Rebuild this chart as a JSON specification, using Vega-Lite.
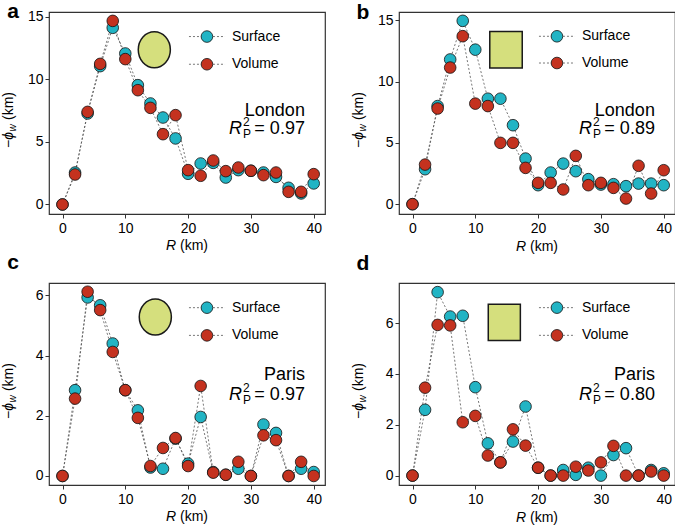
{
"$schema": "https://vega.github.io/schema/vega-lite/v6.json",
"padding": {"left": 1, "top": 0, "right": 0, "bottom": 0},
"background": "white",
"config": {
 "font": "Liberation Sans",
 "view": {"stroke": "#333333", "strokeWidth": 1.2},
 "axis": {"domain": false, "grid": false, "ticks": true, "tickColor": "#333333", "tickSize": 4, "tickWidth": 1, "labelFontSize": 14, "labelColor": "#000000", "labelFont": "Liberation Sans"},
 "axisX": {"labelPadding": 3},
 "axisY": {"labelPadding": 2},
 "text": {"fontSize": 14, "color": "#000000", "align": "left", "baseline": "alphabetic", "font": "Liberation Sans"},
 "rule": {"color": "#555555", "strokeDash": [2, 2], "strokeWidth": 0.8},
 "line": {"color": "#555555", "strokeDash": [2, 2], "strokeWidth": 0.8},
 "point": {"filled": true, "size": 135, "stroke": "#111111", "strokeWidth": 0.8, "opacity": 1, "shape": "circle"}
},
"datasets": {
 "a": [
  {"series":"Surface","R":0,"phi":0},{"series":"Surface","R":2,"phi":2.55},{"series":"Surface","R":4,"phi":7.26},{"series":"Surface","R":6,"phi":11.04},{"series":"Surface","R":8,"phi":14.1},{"series":"Surface","R":10,"phi":12.05},{"series":"Surface","R":12,"phi":9.52},{"series":"Surface","R":14,"phi":8.06},{"series":"Surface","R":16,"phi":6.94},{"series":"Surface","R":18,"phi":5.27},{"series":"Surface","R":20,"phi":2.45},{"series":"Surface","R":22,"phi":3.27},{"series":"Surface","R":24,"phi":3.32},{"series":"Surface","R":26,"phi":2.15},{"series":"Surface","R":28,"phi":2.74},{"series":"Surface","R":30,"phi":2.69},{"series":"Surface","R":32,"phi":2.55},{"series":"Surface","R":34,"phi":2.2},{"series":"Surface","R":36,"phi":1.33},{"series":"Surface","R":38,"phi":0.88},{"series":"Surface","R":40,"phi":1.68},
  {"series":"Volume","R":0,"phi":0},{"series":"Volume","R":2,"phi":2.39},{"series":"Volume","R":4,"phi":7.39},{"series":"Volume","R":6,"phi":11.22},{"series":"Volume","R":8,"phi":14.65},{"series":"Volume","R":10,"phi":11.6},{"series":"Volume","R":12,"phi":9.12},{"series":"Volume","R":14,"phi":7.71},{"series":"Volume","R":16,"phi":5.61},{"series":"Volume","R":18,"phi":7.13},{"series":"Volume","R":20,"phi":2.74},{"series":"Volume","R":22,"phi":2.29},{"series":"Volume","R":24,"phi":3.51},{"series":"Volume","R":26,"phi":2.66},{"series":"Volume","R":28,"phi":2.95},{"series":"Volume","R":30,"phi":2.69},{"series":"Volume","R":32,"phi":2.34},{"series":"Volume","R":34,"phi":2.55},{"series":"Volume","R":36,"phi":1.01},{"series":"Volume","R":38,"phi":1.01},{"series":"Volume","R":40,"phi":2.42}
 ],
 "b": [
  {"series":"Surface","R":0,"phi":0},{"series":"Surface","R":2,"phi":2.85},{"series":"Surface","R":4,"phi":8.0},{"series":"Surface","R":6,"phi":11.8},{"series":"Surface","R":8,"phi":14.95},{"series":"Surface","R":10,"phi":12.6},{"series":"Surface","R":12,"phi":8.6},{"series":"Surface","R":14,"phi":8.6},{"series":"Surface","R":16,"phi":6.44},{"series":"Surface","R":18,"phi":3.72},{"series":"Surface","R":20,"phi":1.55},{"series":"Surface","R":22,"phi":2.58},{"series":"Surface","R":24,"phi":3.31},{"series":"Surface","R":26,"phi":2.69},{"series":"Surface","R":28,"phi":2.04},{"series":"Surface","R":30,"phi":1.6},{"series":"Surface","R":32,"phi":1.63},{"series":"Surface","R":34,"phi":1.47},{"series":"Surface","R":36,"phi":1.68},{"series":"Surface","R":38,"phi":1.68},{"series":"Surface","R":40,"phi":1.55},
  {"series":"Volume","R":0,"phi":0},{"series":"Volume","R":2,"phi":3.23},{"series":"Volume","R":4,"phi":7.8},{"series":"Volume","R":6,"phi":11.14},{"series":"Volume","R":8,"phi":13.7},{"series":"Volume","R":10,"phi":8.2},{"series":"Volume","R":12,"phi":8.0},{"series":"Volume","R":14,"phi":5.0},{"series":"Volume","R":16,"phi":5.0},{"series":"Volume","R":18,"phi":2.96},{"series":"Volume","R":20,"phi":1.74},{"series":"Volume","R":22,"phi":1.74},{"series":"Volume","R":24,"phi":1.2},{"series":"Volume","R":26,"phi":3.94},{"series":"Volume","R":28,"phi":1.55},{"series":"Volume","R":30,"phi":1.74},{"series":"Volume","R":32,"phi":1.33},{"series":"Volume","R":34,"phi":0.46},{"series":"Volume","R":36,"phi":3.13},{"series":"Volume","R":38,"phi":0.87},{"series":"Volume","R":40,"phi":2.77}
 ],
 "c": [
  {"series":"Surface","R":0,"phi":0},{"series":"Surface","R":2,"phi":2.85},{"series":"Surface","R":4,"phi":5.93},{"series":"Surface","R":6,"phi":5.67},{"series":"Surface","R":8,"phi":4.4},{"series":"Surface","R":10,"phi":2.85},{"series":"Surface","R":12,"phi":2.18},{"series":"Surface","R":14,"phi":0.28},{"series":"Surface","R":16,"phi":0.24},{"series":"Surface","R":18,"phi":1.24},{"series":"Surface","R":20,"phi":0.41},{"series":"Surface","R":22,"phi":1.96},{"series":"Surface","R":24,"phi":0.13},{"series":"Surface","R":26,"phi":0.04},{"series":"Surface","R":28,"phi":0.24},{"series":"Surface","R":30,"phi":0},{"series":"Surface","R":32,"phi":1.71},{"series":"Surface","R":34,"phi":1.43},{"series":"Surface","R":36,"phi":0},{"series":"Surface","R":38,"phi":0.24},{"series":"Surface","R":40,"phi":0.13},
  {"series":"Volume","R":0,"phi":0},{"series":"Volume","R":2,"phi":2.57},{"series":"Volume","R":4,"phi":6.12},{"series":"Volume","R":6,"phi":5.51},{"series":"Volume","R":8,"phi":4.12},{"series":"Volume","R":10,"phi":2.85},{"series":"Volume","R":12,"phi":1.93},{"series":"Volume","R":14,"phi":0.33},{"series":"Volume","R":16,"phi":0.93},{"series":"Volume","R":18,"phi":1.26},{"series":"Volume","R":20,"phi":0.33},{"series":"Volume","R":22,"phi":2.99},{"series":"Volume","R":24,"phi":0.11},{"series":"Volume","R":26,"phi":0.04},{"series":"Volume","R":28,"phi":0.47},{"series":"Volume","R":30,"phi":0},{"series":"Volume","R":32,"phi":1.35},{"series":"Volume","R":34,"phi":1.19},{"series":"Volume","R":36,"phi":0},{"series":"Volume","R":38,"phi":0.47},{"series":"Volume","R":40,"phi":0}
 ],
 "d": [
  {"series":"Surface","R":0,"phi":0},{"series":"Surface","R":2,"phi":2.59},{"series":"Surface","R":4,"phi":7.22},{"series":"Surface","R":6,"phi":6.26},{"series":"Surface","R":8,"phi":6.29},{"series":"Surface","R":10,"phi":3.48},{"series":"Surface","R":12,"phi":1.27},{"series":"Surface","R":14,"phi":0.52},{"series":"Surface","R":16,"phi":1.34},{"series":"Surface","R":18,"phi":2.72},{"series":"Surface","R":20,"phi":0.31},{"series":"Surface","R":22,"phi":0},{"series":"Surface","R":24,"phi":0.22},{"series":"Surface","R":26,"phi":0.03},{"series":"Surface","R":28,"phi":0.31},{"series":"Surface","R":30,"phi":0},{"series":"Surface","R":32,"phi":0.81},{"series":"Surface","R":34,"phi":1.08},{"series":"Surface","R":36,"phi":0},{"series":"Surface","R":38,"phi":0.22},{"series":"Surface","R":40,"phi":0.09},
  {"series":"Volume","R":0,"phi":0},{"series":"Volume","R":2,"phi":3.46},{"series":"Volume","R":4,"phi":5.93},{"series":"Volume","R":6,"phi":5.91},{"series":"Volume","R":8,"phi":2.1},{"series":"Volume","R":10,"phi":2.35},{"series":"Volume","R":12,"phi":0.79},{"series":"Volume","R":14,"phi":0.52},{"series":"Volume","R":16,"phi":1.82},{"series":"Volume","R":18,"phi":1.18},{"series":"Volume","R":20,"phi":0.31},{"series":"Volume","R":22,"phi":0},{"series":"Volume","R":24,"phi":0},{"series":"Volume","R":26,"phi":0.35},{"series":"Volume","R":28,"phi":0.2},{"series":"Volume","R":30,"phi":0.52},{"series":"Volume","R":32,"phi":1.17},{"series":"Volume","R":34,"phi":0},{"series":"Volume","R":36,"phi":0},{"series":"Volume","R":38,"phi":0.16},{"series":"Volume","R":40,"phi":0}
 ]
},
"columns": 2,
"spacing": {"row": 69, "column": 74},
"bounds": "flush",
"concat": [
 {"width": 276, "height": 202, "layer": [
  {"data":{"name":"a"},"mark":"line","encoding":{"x":{"field":"R","type":"quantitative","scale":{"domain":[-2.15,41.8],"nice":false,"zero":false},"axis":{"values":[0,10,20,30,40],"title":null}},"y":{"field":"phi","type":"quantitative","scale":{"domain":[-0.76,15.36],"nice":false,"zero":false},"axis":{"values":[0,5,10,15],"title":null}},"detail":{"field":"series"}}},
  {"data":{"name":"a"},"mark":"point","encoding":{"x":{"field":"R","type":"quantitative","axis":{"values":[0,10,20,30,40],"title":null}},"y":{"field":"phi","type":"quantitative","axis":{"values":[0,5,10,15],"title":null}},"color":{"field":"series","type":"nominal","scale":{"domain":["Surface","Volume"],"range":["#22b4c4","#c4321f"]},"legend":null}}},
  {"data":{"values":[{}]},"mark":{"type":"point","shape":"M0.89,0A0.89,1,0,1,1,-0.89,0A0.89,1,0,1,1,0.89,0Z","size":1300,"fill":"#d5df7d","stroke":"#1a1a1a","strokeWidth":1.5},"encoding":{"x":{"datum":14.62},"y":{"datum":12.34}}},
  {"data":{"values":[{}]},"mark":"rule","encoding":{"x":{"datum":20.14},"x2":{"datum":25.88},"y":{"datum":13.40}}},
  {"data":{"values":[{}]},"mark":"rule","encoding":{"x":{"datum":20.14},"x2":{"datum":25.88},"y":{"datum":11.19}}},
  {"data":{"values":[{}]},"mark":{"type":"point","fill":"#22b4c4"},"encoding":{"x":{"datum":23.0},"y":{"datum":13.40}}},
  {"data":{"values":[{}]},"mark":{"type":"point","fill":"#c4321f"},"encoding":{"x":{"datum":23.0},"y":{"datum":11.19}}},
  {"data":{"values":[{}]},"mark":{"type":"text","text":"Surface","dx":25,"baseline":"middle"},"encoding":{"x":{"datum":23.0},"y":{"datum":13.40}}},
  {"data":{"values":[{}]},"mark":{"type":"text","text":"Volume","dx":25,"baseline":"middle"},"encoding":{"x":{"datum":23.0},"y":{"datum":11.19}}},
  {"data":{"values":[{}]},"mark":{"type":"text","text":"London","align":"right","fontSize":18},"encoding":{"x":{"datum":38.6},"y":{"datum":7.10}}},
  {"data":{"values":[{}]},"mark":{"type":"text","text":"R","fontStyle":"italic","fontSize":18,"dx":-76},"encoding":{"x":{"datum":38.6},"y":{"datum":5.62}}},
  {"data":{"values":[{}]},"mark":{"type":"text","text":"2","fontSize":12,"dx":-62,"dy":-8},"encoding":{"x":{"datum":38.6},"y":{"datum":5.62}}},
  {"data":{"values":[{}]},"mark":{"type":"text","text":"P","fontSize":12,"dx":-62,"dy":4},"encoding":{"x":{"datum":38.6},"y":{"datum":5.62}}},
  {"data":{"values":[{}]},"mark":{"type":"text","text":"= 0.97","align":"right","fontSize":18},"encoding":{"x":{"datum":38.6},"y":{"datum":5.62}}},
  {"data":{"values":[{}]},"mark":{"type":"text","text":"a","fontSize":21,"fontWeight":"bold","align":"center"},"encoding":{"x":{"datum":-7.88},"y":{"datum":14.87}}},
  {"data":{"values":[{}]},"mark":{"type":"text","text":"R","fontStyle":"italic","dx":-21},"encoding":{"x":{"datum":19.82},"y":{"datum":-3.67}}},
  {"data":{"values":[{}]},"mark":{"type":"text","text":"(km)","dx":-7},"encoding":{"x":{"datum":19.82},"y":{"datum":-3.67}}},
  {"data":{"values":[{}]},"mark":{"type":"text","text":"−","angle":270,"dx":-28},"encoding":{"x":{"datum":-7.88},"y":{"datum":6.74}}},
  {"data":{"values":[{}]},"mark":{"type":"text","text":"ϕ","angle":270,"fontStyle":"italic","dx":-19.8},"encoding":{"x":{"datum":-7.88},"y":{"datum":6.74}}},
  {"data":{"values":[{}]},"mark":{"type":"text","text":"w","angle":270,"fontStyle":"italic","fontSize":10,"dx":-11.5,"dy":3},"encoding":{"x":{"datum":-7.88},"y":{"datum":6.74}}},
  {"data":{"values":[{}]},"mark":{"type":"text","text":"(km)","angle":270,"dx":0},"encoding":{"x":{"datum":-7.88},"y":{"datum":6.74}}}
 ]},
 {"width": 276, "height": 202, "layer": [
  {"data":{"name":"b"},"mark":"line","encoding":{"x":{"field":"R","type":"quantitative","scale":{"domain":[-2.15,41.8],"nice":false,"zero":false},"axis":{"values":[0,10,20,30,40],"title":null}},"y":{"field":"phi","type":"quantitative","scale":{"domain":[-0.8,15.67],"nice":false,"zero":false},"axis":{"values":[0,5,10,15],"title":null}},"detail":{"field":"series"}}},
  {"data":{"name":"b"},"mark":"point","encoding":{"x":{"field":"R","type":"quantitative","axis":{"values":[0,10,20,30,40],"title":null}},"y":{"field":"phi","type":"quantitative","axis":{"values":[0,5,10,15],"title":null}},"color":{"field":"series","type":"nominal","scale":{"domain":["Surface","Volume"],"range":["#22b4c4","#c4321f"]},"legend":null}}},
  {"data":{"values":[{}]},"mark":{"type":"point","shape":"M-0.89,-1H0.89V1H-0.89Z","size":1330,"fill":"#d5df7d","stroke":"#1a1a1a","strokeWidth":1.5},"encoding":{"x":{"datum":14.89},"y":{"datum":12.60}}},
  {"data":{"values":[{}]},"mark":"rule","encoding":{"x":{"datum":20.14},"x2":{"datum":25.88},"y":{"datum":13.69}}},
  {"data":{"values":[{}]},"mark":"rule","encoding":{"x":{"datum":20.14},"x2":{"datum":25.88},"y":{"datum":11.51}}},
  {"data":{"values":[{}]},"mark":{"type":"point","fill":"#22b4c4"},"encoding":{"x":{"datum":23.0},"y":{"datum":13.69}}},
  {"data":{"values":[{}]},"mark":{"type":"point","fill":"#c4321f"},"encoding":{"x":{"datum":23.0},"y":{"datum":11.51}}},
  {"data":{"values":[{}]},"mark":{"type":"text","text":"Surface","dx":25,"baseline":"middle"},"encoding":{"x":{"datum":23.0},"y":{"datum":13.69}}},
  {"data":{"values":[{}]},"mark":{"type":"text","text":"Volume","dx":25,"baseline":"middle"},"encoding":{"x":{"datum":23.0},"y":{"datum":11.51}}},
  {"data":{"values":[{}]},"mark":{"type":"text","text":"London","align":"right","fontSize":18},"encoding":{"x":{"datum":38.6},"y":{"datum":7.23}}},
  {"data":{"values":[{}]},"mark":{"type":"text","text":"R","fontStyle":"italic","fontSize":18,"dx":-76},"encoding":{"x":{"datum":38.6},"y":{"datum":5.72}}},
  {"data":{"values":[{}]},"mark":{"type":"text","text":"2","fontSize":12,"dx":-62,"dy":-8},"encoding":{"x":{"datum":38.6},"y":{"datum":5.72}}},
  {"data":{"values":[{}]},"mark":{"type":"text","text":"P","fontSize":12,"dx":-62,"dy":4},"encoding":{"x":{"datum":38.6},"y":{"datum":5.72}}},
  {"data":{"values":[{}]},"mark":{"type":"text","text":"= 0.89","align":"right","fontSize":18},"encoding":{"x":{"datum":38.6},"y":{"datum":5.72}}},
  {"data":{"values":[{}]},"mark":{"type":"text","text":"b","fontSize":21,"fontWeight":"bold","align":"center"},"encoding":{"x":{"datum":-7.88},"y":{"datum":15.1}}},
  {"data":{"values":[{}]},"mark":{"type":"text","text":"R","fontStyle":"italic","dx":-21},"encoding":{"x":{"datum":19.82},"y":{"datum":-3.78}}},
  {"data":{"values":[{}]},"mark":{"type":"text","text":"(km)","dx":-7},"encoding":{"x":{"datum":19.82},"y":{"datum":-3.78}}},
  {"data":{"values":[{}]},"mark":{"type":"text","text":"−","angle":270,"dx":-28},"encoding":{"x":{"datum":-7.88},"y":{"datum":6.86}}},
  {"data":{"values":[{}]},"mark":{"type":"text","text":"ϕ","angle":270,"fontStyle":"italic","dx":-19.8},"encoding":{"x":{"datum":-7.88},"y":{"datum":6.86}}},
  {"data":{"values":[{}]},"mark":{"type":"text","text":"w","angle":270,"fontStyle":"italic","fontSize":10,"dx":-11.5,"dy":3},"encoding":{"x":{"datum":-7.88},"y":{"datum":6.86}}},
  {"data":{"values":[{}]},"mark":{"type":"text","text":"(km)","angle":270,"dx":0},"encoding":{"x":{"datum":-7.88},"y":{"datum":6.86}}}
 ]},
 {"width": 276, "height": 202, "layer": [
  {"data":{"name":"c"},"mark":"line","encoding":{"x":{"field":"R","type":"quantitative","scale":{"domain":[-2.15,41.8],"nice":false,"zero":false},"axis":{"values":[0,10,20,30,40],"title":null}},"y":{"field":"phi","type":"quantitative","scale":{"domain":[-0.3,6.41],"nice":false,"zero":false},"axis":{"values":[0,2,4,6],"title":null}},"detail":{"field":"series"}}},
  {"data":{"name":"c"},"mark":"point","encoding":{"x":{"field":"R","type":"quantitative","axis":{"values":[0,10,20,30,40],"title":null}},"y":{"field":"phi","type":"quantitative","axis":{"values":[0,2,4,6],"title":null}},"color":{"field":"series","type":"nominal","scale":{"domain":["Surface","Volume"],"range":["#22b4c4","#c4321f"]},"legend":null}}},
  {"data":{"values":[{}]},"mark":{"type":"point","shape":"M0.89,0A0.89,1,0,1,1,-0.89,0A0.89,1,0,1,1,0.89,0Z","size":1300,"fill":"#d5df7d","stroke":"#1a1a1a","strokeWidth":1.5},"encoding":{"x":{"datum":14.78},"y":{"datum":5.28}}},
  {"data":{"values":[{}]},"mark":"rule","encoding":{"x":{"datum":20.14},"x2":{"datum":25.88},"y":{"datum":5.59}}},
  {"data":{"values":[{}]},"mark":"rule","encoding":{"x":{"datum":20.14},"x2":{"datum":25.88},"y":{"datum":4.67}}},
  {"data":{"values":[{}]},"mark":{"type":"point","fill":"#22b4c4"},"encoding":{"x":{"datum":23.0},"y":{"datum":5.59}}},
  {"data":{"values":[{}]},"mark":{"type":"point","fill":"#c4321f"},"encoding":{"x":{"datum":23.0},"y":{"datum":4.67}}},
  {"data":{"values":[{}]},"mark":{"type":"text","text":"Surface","dx":25,"baseline":"middle"},"encoding":{"x":{"datum":23.0},"y":{"datum":5.59}}},
  {"data":{"values":[{}]},"mark":{"type":"text","text":"Volume","dx":25,"baseline":"middle"},"encoding":{"x":{"datum":23.0},"y":{"datum":4.67}}},
  {"data":{"values":[{}]},"mark":{"type":"text","text":"Paris","align":"right","fontSize":18},"encoding":{"x":{"datum":38.6},"y":{"datum":3.20}}},
  {"data":{"values":[{}]},"mark":{"type":"text","text":"R","fontStyle":"italic","fontSize":18,"dx":-76},"encoding":{"x":{"datum":38.6},"y":{"datum":2.54}}},
  {"data":{"values":[{}]},"mark":{"type":"text","text":"2","fontSize":12,"dx":-62,"dy":-8},"encoding":{"x":{"datum":38.6},"y":{"datum":2.54}}},
  {"data":{"values":[{}]},"mark":{"type":"text","text":"P","fontSize":12,"dx":-62,"dy":4},"encoding":{"x":{"datum":38.6},"y":{"datum":2.54}}},
  {"data":{"values":[{}]},"mark":{"type":"text","text":"= 0.97","align":"right","fontSize":18},"encoding":{"x":{"datum":38.6},"y":{"datum":2.54}}},
  {"data":{"values":[{}]},"mark":{"type":"text","text":"c","fontSize":21,"fontWeight":"bold","align":"center"},"encoding":{"x":{"datum":-7.88},"y":{"datum":6.86}}},
  {"data":{"values":[{}]},"mark":{"type":"text","text":"R","fontStyle":"italic","dx":-21},"encoding":{"x":{"datum":19.82},"y":{"datum":-1.51}}},
  {"data":{"values":[{}]},"mark":{"type":"text","text":"(km)","dx":-7},"encoding":{"x":{"datum":19.82},"y":{"datum":-1.51}}},
  {"data":{"values":[{}]},"mark":{"type":"text","text":"−","angle":270,"dx":-28},"encoding":{"x":{"datum":-7.88},"y":{"datum":2.82}}},
  {"data":{"values":[{}]},"mark":{"type":"text","text":"ϕ","angle":270,"fontStyle":"italic","dx":-19.8},"encoding":{"x":{"datum":-7.88},"y":{"datum":2.82}}},
  {"data":{"values":[{}]},"mark":{"type":"text","text":"w","angle":270,"fontStyle":"italic","fontSize":10,"dx":-11.5,"dy":3},"encoding":{"x":{"datum":-7.88},"y":{"datum":2.82}}},
  {"data":{"values":[{}]},"mark":{"type":"text","text":"(km)","angle":270,"dx":0},"encoding":{"x":{"datum":-7.88},"y":{"datum":2.82}}}
 ]},
 {"width": 276, "height": 202, "layer": [
  {"data":{"name":"d"},"mark":"line","encoding":{"x":{"field":"R","type":"quantitative","scale":{"domain":[-2.15,41.8],"nice":false,"zero":false},"axis":{"values":[0,10,20,30,40],"title":null}},"y":{"field":"phi","type":"quantitative","scale":{"domain":[-0.37,7.58],"nice":false,"zero":false},"axis":{"values":[0,2,4,6],"title":null}},"detail":{"field":"series"}}},
  {"data":{"name":"d"},"mark":"point","encoding":{"x":{"field":"R","type":"quantitative","axis":{"values":[0,10,20,30,40],"title":null}},"y":{"field":"phi","type":"quantitative","axis":{"values":[0,2,4,6],"title":null}},"color":{"field":"series","type":"nominal","scale":{"domain":["Surface","Volume"],"range":["#22b4c4","#c4321f"]},"legend":null}}},
  {"data":{"values":[{}]},"mark":{"type":"point","shape":"M-0.89,-1H0.89V1H-0.89Z","size":1300,"fill":"#d5df7d","stroke":"#1a1a1a","strokeWidth":1.5},"encoding":{"x":{"datum":14.62},"y":{"datum":6.03}}},
  {"data":{"values":[{}]},"mark":"rule","encoding":{"x":{"datum":20.14},"x2":{"datum":25.88},"y":{"datum":6.61}}},
  {"data":{"values":[{}]},"mark":"rule","encoding":{"x":{"datum":20.14},"x2":{"datum":25.88},"y":{"datum":5.52}}},
  {"data":{"values":[{}]},"mark":{"type":"point","fill":"#22b4c4"},"encoding":{"x":{"datum":23.0},"y":{"datum":6.61}}},
  {"data":{"values":[{}]},"mark":{"type":"point","fill":"#c4321f"},"encoding":{"x":{"datum":23.0},"y":{"datum":5.52}}},
  {"data":{"values":[{}]},"mark":{"type":"text","text":"Surface","dx":25,"baseline":"middle"},"encoding":{"x":{"datum":23.0},"y":{"datum":6.61}}},
  {"data":{"values":[{}]},"mark":{"type":"text","text":"Volume","dx":25,"baseline":"middle"},"encoding":{"x":{"datum":23.0},"y":{"datum":5.52}}},
  {"data":{"values":[{}]},"mark":{"type":"text","text":"Paris","align":"right","fontSize":18},"encoding":{"x":{"datum":38.6},"y":{"datum":3.78}}},
  {"data":{"values":[{}]},"mark":{"type":"text","text":"R","fontStyle":"italic","fontSize":18,"dx":-76},"encoding":{"x":{"datum":38.6},"y":{"datum":2.99}}},
  {"data":{"values":[{}]},"mark":{"type":"text","text":"2","fontSize":12,"dx":-62,"dy":-8},"encoding":{"x":{"datum":38.6},"y":{"datum":2.99}}},
  {"data":{"values":[{}]},"mark":{"type":"text","text":"P","fontSize":12,"dx":-62,"dy":4},"encoding":{"x":{"datum":38.6},"y":{"datum":2.99}}},
  {"data":{"values":[{}]},"mark":{"type":"text","text":"= 0.80","align":"right","fontSize":18},"encoding":{"x":{"datum":38.6},"y":{"datum":2.99}}},
  {"data":{"values":[{}]},"mark":{"type":"text","text":"d","fontSize":21,"fontWeight":"bold","align":"center"},"encoding":{"x":{"datum":-7.88},"y":{"datum":8.09}}},
  {"data":{"values":[{}]},"mark":{"type":"text","text":"R","fontStyle":"italic","dx":-21},"encoding":{"x":{"datum":19.82},"y":{"datum":-1.81}}},
  {"data":{"values":[{}]},"mark":{"type":"text","text":"(km)","dx":-7},"encoding":{"x":{"datum":19.82},"y":{"datum":-1.81}}},
  {"data":{"values":[{}]},"mark":{"type":"text","text":"−","angle":270,"dx":-28},"encoding":{"x":{"datum":-7.88},"y":{"datum":3.33}}},
  {"data":{"values":[{}]},"mark":{"type":"text","text":"ϕ","angle":270,"fontStyle":"italic","dx":-19.8},"encoding":{"x":{"datum":-7.88},"y":{"datum":3.33}}},
  {"data":{"values":[{}]},"mark":{"type":"text","text":"w","angle":270,"fontStyle":"italic","fontSize":10,"dx":-11.5,"dy":3},"encoding":{"x":{"datum":-7.88},"y":{"datum":3.33}}},
  {"data":{"values":[{}]},"mark":{"type":"text","text":"(km)","angle":270,"dx":0},"encoding":{"x":{"datum":-7.88},"y":{"datum":3.33}}}
 ]}
]
}
